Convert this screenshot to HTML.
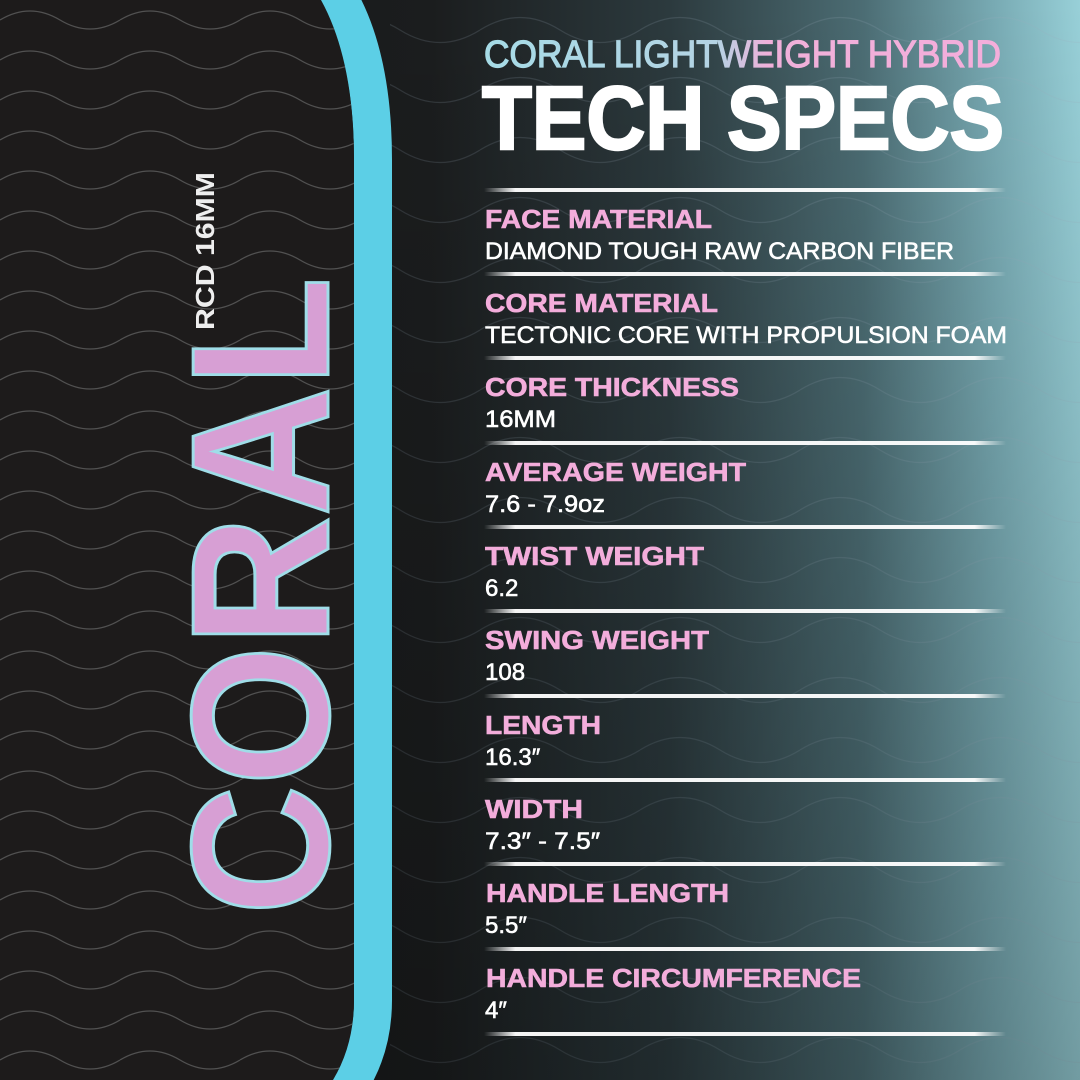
<!DOCTYPE html>
<html><head><meta charset="utf-8"><style>
html,body{margin:0;padding:0;background:#151515;}
svg{display:block;}
</style></head><body>
<svg width="1080" height="1080" viewBox="0 0 1080 1080" xmlns="http://www.w3.org/2000/svg">
<defs>
<linearGradient id="bgh" x1="0" y1="0" x2="1" y2="0">
<stop offset="0" stop-color="#161616"/>
<stop offset="0.4" stop-color="#1b1d1e"/>
<stop offset="0.62" stop-color="#2c3a3e"/>
<stop offset="0.8" stop-color="#4c6d74"/>
<stop offset="0.92" stop-color="#78aab3"/>
<stop offset="1" stop-color="#98d0d8"/>
</linearGradient>
<linearGradient id="bgv" x1="0" y1="0" x2="0" y2="1">
<stop offset="0" stop-color="#000" stop-opacity="0"/>
<stop offset="1" stop-color="#000" stop-opacity="0.25"/>
</linearGradient>
<linearGradient id="hdr" x1="0" y1="0" x2="1" y2="0">
<stop offset="0" stop-color="#a6dbe6"/>
<stop offset="0.45" stop-color="#b4d3e4"/>
<stop offset="0.55" stop-color="#f0b0da"/>
<stop offset="1" stop-color="#f4aedb"/>
</linearGradient>
<linearGradient id="ln" x1="0" y1="0" x2="1" y2="0">
<stop offset="0" stop-color="#fff" stop-opacity="0"/>
<stop offset="0.06" stop-color="#fff" stop-opacity="0.95"/>
<stop offset="0.94" stop-color="#fff" stop-opacity="0.95"/>
<stop offset="1" stop-color="#fff" stop-opacity="0"/>
</linearGradient>
<pattern id="topo" width="120" height="40" patternUnits="userSpaceOnUse">
<path d="M0 20 q30 -18 60 0 t60 0" fill="none" stroke="#5e5e5e" stroke-width="1.3"/>
</pattern>
<pattern id="topo2" width="160" height="60" patternUnits="userSpaceOnUse">
<path d="M0 30 q40 -25 80 0 t80 0" fill="none" stroke="#9ab" stroke-width="1.2" opacity="0.18"/>
</pattern>
</defs>
<rect width="1080" height="1080" fill="url(#bgh)"/>
<rect x="390" width="690" height="1080" fill="url(#topo2)"/>
<rect width="1080" height="1080" fill="url(#bgv)"/>
<!-- paddle -->
<path d="M0 0 L340 0 Q373 60 373 160 L373 1000 Q373 1045 352 1080 L0 1080 Z" fill="#1c1a1a" stroke="#5ccfe6" stroke-width="38"/>
<path d="M0 0 L321 0 Q354 60 354 160 L354 1000 Q354 1045 333 1080 L0 1080 Z" fill="#1d1b1b"/>
<path d="M0 0 L321 0 Q354 60 354 160 L354 1000 Q354 1045 333 1080 L0 1080 Z" fill="url(#topo)" opacity="0.8"/>
<!-- CORAL -->
<text transform="translate(328,915) rotate(-90)" font-family="Liberation Sans, sans-serif" font-weight="bold" font-size="196" textLength="638" lengthAdjust="spacingAndGlyphs" fill="#d79fd4" stroke="#9fdde8" stroke-width="3">CORAL</text>
<text transform="translate(214,330) rotate(-90)" font-family="Liberation Sans, sans-serif" font-weight="bold" font-size="26" textLength="158" lengthAdjust="spacingAndGlyphs" fill="#eeeeee">RCD 16MM</text>
<!-- header -->
<text x="484" y="67" font-family="Liberation Sans, sans-serif" font-size="38" textLength="517" lengthAdjust="spacingAndGlyphs" fill="url(#hdr)" stroke="url(#hdr)" stroke-width="1.2">CORAL LIGHTWEIGHT HYBRID</text>
<text x="482" y="149" font-family="Liberation Sans, sans-serif" font-weight="bold" font-size="90" textLength="522" lengthAdjust="spacingAndGlyphs" fill="#ffffff" stroke="#fff" stroke-width="2.5">TECH SPECS</text>
<g fill="url(#ln)">
<rect x="484" y="188" width="522" height="4"/>
<rect x="484" y="272" width="522" height="4"/>
<rect x="484" y="356" width="522" height="4"/>
<rect x="484" y="441" width="522" height="4"/>
<rect x="484" y="525" width="522" height="4"/>
<rect x="484" y="609" width="522" height="4"/>
<rect x="484" y="694" width="522" height="4"/>
<rect x="484" y="778" width="522" height="4"/>
<rect x="484" y="862" width="522" height="4"/>
<rect x="484" y="947" width="522" height="4"/>
<rect x="484" y="1032" width="522" height="4"/>
</g>
<g font-family="Liberation Sans, sans-serif" font-weight="bold" font-size="26" fill="#f3addb" stroke="#f3addb" stroke-width="0.6">
<text x="485" y="228" textLength="227" lengthAdjust="spacingAndGlyphs">FACE MATERIAL</text>
<text x="485" y="312" textLength="233" lengthAdjust="spacingAndGlyphs">CORE MATERIAL</text>
<text x="485" y="396" textLength="254" lengthAdjust="spacingAndGlyphs">CORE THICKNESS</text>
<text x="485" y="481" textLength="261" lengthAdjust="spacingAndGlyphs">AVERAGE WEIGHT</text>
<text x="485" y="565" textLength="219" lengthAdjust="spacingAndGlyphs">TWIST WEIGHT</text>
<text x="485" y="649" textLength="224" lengthAdjust="spacingAndGlyphs">SWING WEIGHT</text>
<text x="485" y="734" textLength="116" lengthAdjust="spacingAndGlyphs">LENGTH</text>
<text x="485" y="818" textLength="98" lengthAdjust="spacingAndGlyphs">WIDTH</text>
<text x="486" y="902" textLength="243" lengthAdjust="spacingAndGlyphs">HANDLE LENGTH</text>
<text x="486" y="987" textLength="375" lengthAdjust="spacingAndGlyphs">HANDLE CIRCUMFERENCE</text>
</g>
<g font-family="Liberation Sans, sans-serif" font-size="24" fill="#ffffff" stroke="#fff" stroke-width="0.6">
<text x="485" y="259" textLength="469" lengthAdjust="spacingAndGlyphs">DIAMOND TOUGH RAW CARBON FIBER</text>
<text x="485" y="343" textLength="522" lengthAdjust="spacingAndGlyphs">TECTONIC CORE WITH PROPULSION FOAM</text>
<text x="485" y="427" textLength="71" lengthAdjust="spacingAndGlyphs">16MM</text>
<text x="485" y="512" textLength="120" lengthAdjust="spacingAndGlyphs">7.6 - 7.9oz</text>
<text x="485" y="596">6.2</text>
<text x="485" y="680">108</text>
<text x="485" y="765">16.3″</text>
<text x="485" y="849" textLength="115" lengthAdjust="spacingAndGlyphs">7.3″ - 7.5″</text>
<text x="485" y="933">5.5″</text>
<text x="485" y="1018">4″</text>
</g>
</svg>
</body></html>
